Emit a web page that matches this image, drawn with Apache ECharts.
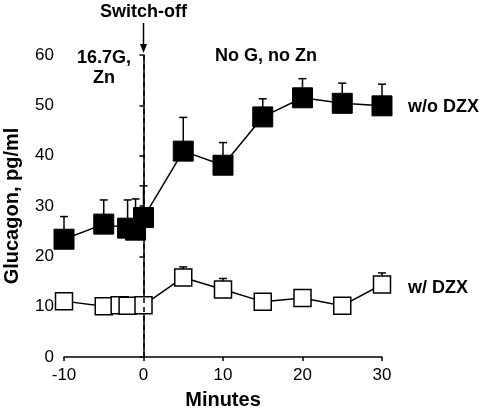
<!DOCTYPE html>
<html>
<head>
<meta charset="utf-8">
<script src="https://cdn.jsdelivr.net/npm/echarts@6/dist/echarts.min.js"></script>
<style>
html,body{margin:0;padding:0;background:#fff;}
#c{width:480px;height:416px;}
</style>
</head>
<body>
<div id="c"></div>
<script>
// ---- data ----
var xTicks = [-10, 0, 10, 20, 30];
var yTicks = [0, 10, 20, 30, 40, 50, 60];

var noDzxTimes = [-10, -5, -2, -1, 0, 5, 10, 15, 20, 25, 30];
var noDzxMean  = [23.4, 26.4, 25.6, 25.2, 27.7, 40.9, 38.1, 47.7, 51.5, 50.4, 49.9];
var noDzxSem   = [4.5, 4.8, 5.6, 6.2, 6.3, 6.7, 4.5, 3.6, 3.8, 4.0, 4.3];

var dzxTimes = [-10, -5, -3, -2, 0, 5, 10, 15, 20, 25, 30];
var dzxMean  = [11.1, 10.1, 10.3, 10.2, 10.3, 15.8, 13.4, 11.0, 11.7, 10.2, 14.4];
var dzxSem   = [1.0, 0.8, 0.8, 0.8, 0.9, 2.1, 2.2, 1.0, 1.2, 1.0, 2.3];

var switchOffTime = 0;

// ---- build ----
function pairs(t, m) { return t.map(function (v, i) { return [v, m[i]]; }); }
function errData(t, m, s) { return t.map(function (v, i) { return [v, m[i], m[i] + s[i]]; }); }

function errRender(params, api) {
  var p0 = api.coord([api.value(0), api.value(1)]);
  var p1 = api.coord([api.value(0), api.value(2)]);
  var hw = 4;
  return {
    type: 'group',
    children: [
      { type: 'line', shape: { x1: p0[0], y1: p0[1], x2: p1[0], y2: p1[1] },
        style: { stroke: '#000', lineWidth: 1.5 } },
      { type: 'line', shape: { x1: p1[0] - hw, y1: p1[1], x2: p1[0] + hw, y2: p1[1] },
        style: { stroke: '#000', lineWidth: 1.5 } }
    ]
  };
}

var chart = echarts.init(document.getElementById('c'), null, { renderer: 'canvas' });
var FONT = '"Liberation Sans", Arial, sans-serif';

var option = {
  backgroundColor: '#fff',
  animation: false,
  grid: { left: 64, right: 98, top: 55, bottom: 59, containLabel: false, outerBoundsMode: 'none' },
  xAxis: {
    type: 'value', min: xTicks[0], max: xTicks[xTicks.length - 1], interval: 10,
    name: 'Minutes', nameLocation: 'middle', nameGap: 33,
    nameTextStyle: { fontFamily: FONT, fontWeight: 'bold', fontSize: 20, color: '#000' },
    axisLine: { onZero: false, lineStyle: { color: '#000', width: 1.5 } },
    axisTick: { show: true, inside: false, length: 4, lineStyle: { color: '#000', width: 1.5 } },
    axisLabel: { fontFamily: FONT, fontSize: 17, color: '#000', margin: 10 },
    splitLine: { show: false }
  },
  yAxis: {
    type: 'value', min: yTicks[0], max: yTicks[yTicks.length - 1], interval: 10,
    name: 'Glucagon, pg/ml', nameLocation: 'middle', nameGap: 42, nameRotate: 90,
    nameTextStyle: { fontFamily: FONT, fontWeight: 'bold', fontSize: 20, color: '#000' },
    axisLine: { show: true, lineStyle: { color: '#000', width: 1.5 } },
    axisTick: { show: true, inside: false, length: 4, lineStyle: { color: '#000', width: 1.5 } },
    axisLabel: { fontFamily: FONT, fontSize: 17, color: '#000', margin: 10 },
    splitLine: { show: false }
  },
  series: [
    {
      type: 'custom', name: 'dzxErr', renderItem: errRender,
      data: errData(dzxTimes, dzxMean, dzxSem), z: 1, silent: true
    },
    {
      type: 'line', name: 'w/ DZX', data: pairs(dzxTimes, dzxMean),
      symbol: 'rect', symbolSize: 17, showAllSymbol: true,
      lineStyle: { color: '#000', width: 1.5 },
      itemStyle: { color: '#fff', borderColor: '#000', borderWidth: 1.5 },
      z: 2
    },
    {
      type: 'custom', name: 'noDzxErr', renderItem: errRender,
      data: errData(noDzxTimes, noDzxMean, noDzxSem), z: 1, silent: true
    },
    {
      type: 'line', name: 'w/o DZX', data: pairs(noDzxTimes, noDzxMean),
      symbol: 'rect', symbolSize: 20, showAllSymbol: true,
      lineStyle: { color: '#000', width: 1.5 },
      itemStyle: { color: '#000', borderColor: '#000', borderWidth: 1 },
      z: 3,
      markLine: {
        silent: true, symbol: ['none', 'none'], z: 10,
        label: { show: false },
        lineStyle: { color: '#000', width: 1.5, type: [5, 4] },
        data: [{ xAxis: switchOffTime }]
      }
    }
  ]
};
chart.setOption(option);

var sx = chart.convertToPixel({ xAxisIndex: 0 }, switchOffTime);
var bold = 'bold 18px ' + FONT;
chart.setOption({
  graphic: [
    { type: 'text', x: sx, y: 12, style: { text: 'Switch-off', font: bold, fill: '#000', align: 'center', verticalAlign: 'middle' } },
    { type: 'line', shape: { x1: sx, y1: 23, x2: sx, y2: 46 }, style: { stroke: '#000', lineWidth: 1.5 } },
    { type: 'polygon', shape: { points: [[sx - 3.5, 44], [sx + 3.5, 44], [sx, 53]] }, style: { fill: '#000' } },
    { type: 'text', x: 104, y: 58, style: { text: '16.7G,', font: bold, fill: '#000', align: 'center', verticalAlign: 'middle' } },
    { type: 'text', x: 104, y: 78, style: { text: 'Zn', font: bold, fill: '#000', align: 'center', verticalAlign: 'middle' } },
    { type: 'text', x: 266, y: 56, style: { text: 'No G, no Zn', font: bold, fill: '#000', align: 'center', verticalAlign: 'middle' } },
    { type: 'text', x: 408, y: 107, style: { text: 'w/o DZX', font: bold, fill: '#000', align: 'left', verticalAlign: 'middle' } },
    { type: 'text', x: 408, y: 288, style: { text: 'w/ DZX', font: bold, fill: '#000', align: 'left', verticalAlign: 'middle' } }
  ]
});
</script>
</body>
</html>
